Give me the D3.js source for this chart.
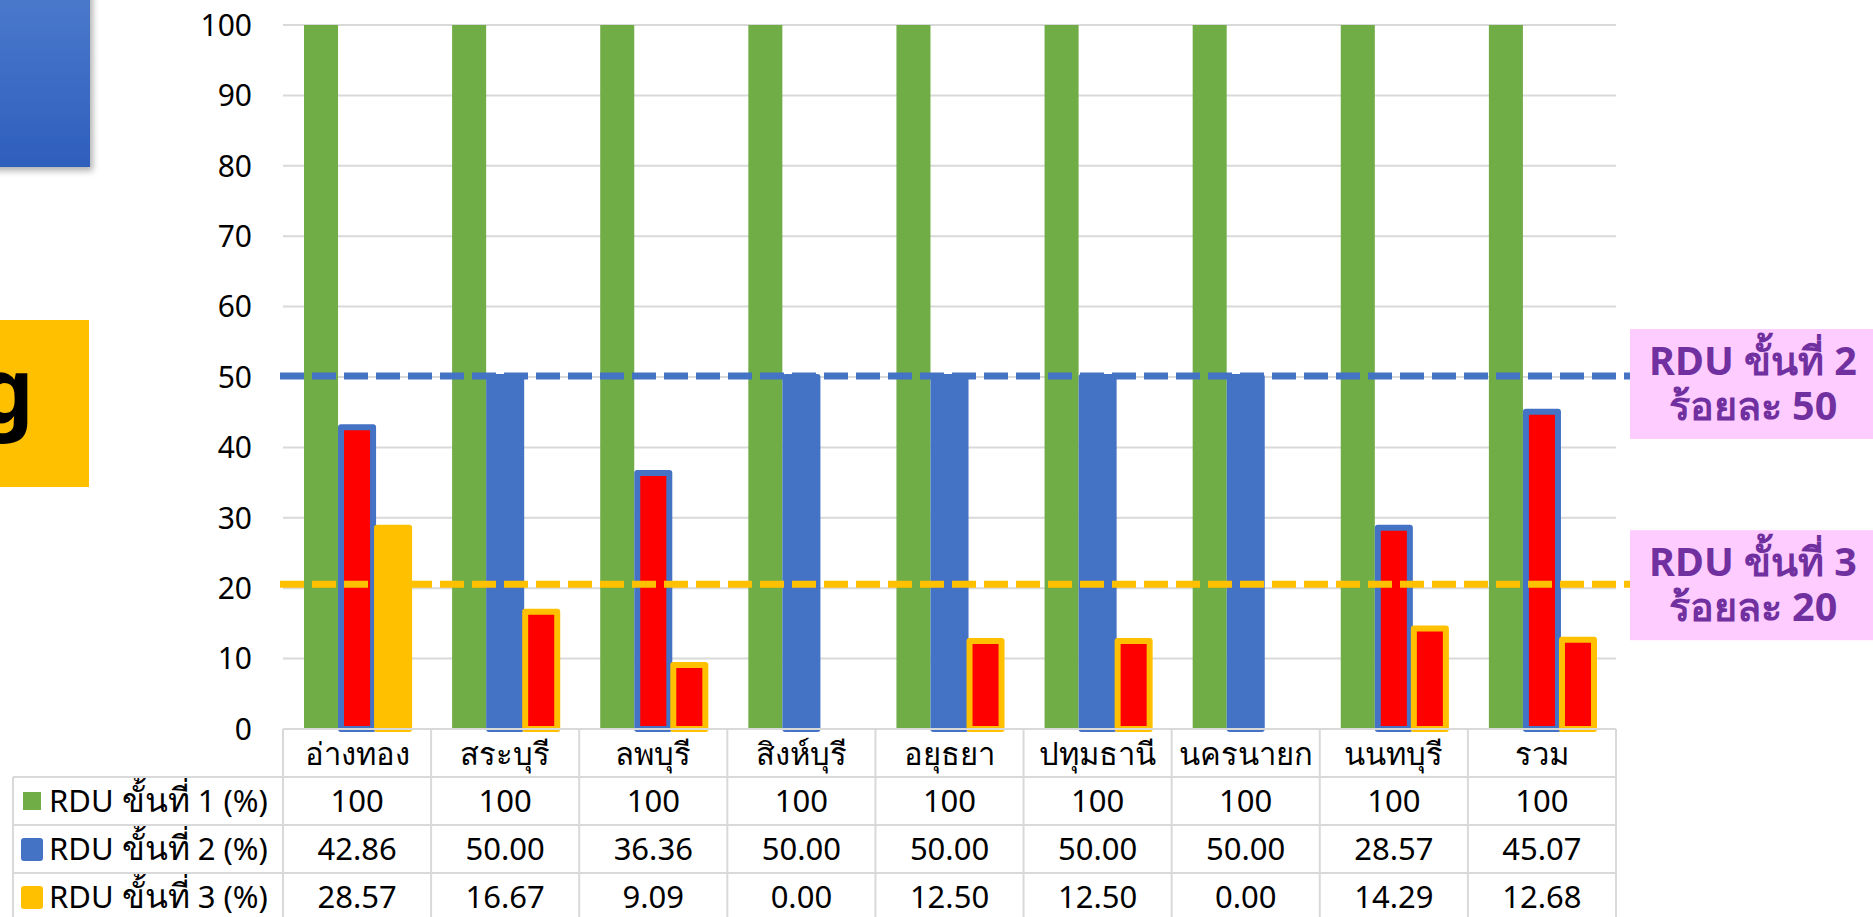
<!DOCTYPE html>
<html>
<head>
<meta charset="utf-8">
<script src="https://cdn.jsdelivr.net/npm/d3@7"></script>
<style>
  html, body { margin: 0; padding: 0; background: #FFFFFF; overflow: hidden; }
  svg text { font-family: Tahoma, "Noto Sans", "Liberation Sans", sans-serif; }
</style>
</head>
<body>
<div id="chart"></div>
<script>
const categories = ["อ่างทอง", "สระบุรี", "ลพบุรี", "สิงห์บุรี", "อยุธยา", "ปทุมธานี", "นครนายก", "นนทบุรี", "รวม"];
const seriesNames = ["RDU ขั้นที่ 1 (%)", "RDU ขั้นที่ 2 (%)", "RDU ขั้นที่ 3 (%)"];
const rdu1 = [100, 100, 100, 100, 100, 100, 100, 100, 100];
const rdu2 = [42.86, 50.00, 36.36, 50.00, 50.00, 50.00, 50.00, 28.57, 45.07];
const rdu3 = [28.57, 16.67, 9.09, 0.00, 12.50, 12.50, 0.00, 14.29, 12.68];
const yTicks = [0, 10, 20, 30, 40, 50, 60, 70, 80, 90, 100];
const targetValues = [50, 20];
const targetLabels = [["RDU ขั้นที่ 2", "ร้อยละ 50"], ["RDU ขั้นที่ 3", "ร้อยละ 20"]];

const width = 1873, height = 917;
const plotLeft = 283, plotRight = 1616, plotTop = 25, plotBottom = 729;
const rowH = 48;
const fontSize = 31;
const thaiScale = 1.08;

const colors = ["#70AD47", "#4472C4", "#FFC000"];
const belowColor = "#FF0000";
const gridColor = "#D9D9D9";
const series = [rdu1, rdu2, rdu3];

// thai glyphs of the fallback font run a bit small, so give them their own size
function mixedText(sel, str, size) {
  const runs = str.match(/[\u0E00-\u0E7F]+|[^\u0E00-\u0E7F]+/g);
  runs.forEach(r => {
    sel.append("tspan")
      .attr("font-size", /[\u0E00-\u0E7F]/.test(r) ? size * thaiScale : size)
      .text(r);
  });
  return sel;
}

const svg = d3.select("#chart")
  .append("svg")
  .attr("width", width)
  .attr("height", height)
  .attr("viewBox", `0 0 ${width} ${height}`);

const defs = svg.append("defs");
const grad = defs.append("linearGradient")
  .attr("id", "blueGrad")
  .attr("x1", 0).attr("y1", 0).attr("x2", 0).attr("y2", 1);
grad.append("stop").attr("offset", "0%").attr("stop-color", "#4C7ACC");
grad.append("stop").attr("offset", "100%").attr("stop-color", "#2E5EBD");
const shadow = defs.append("filter")
  .attr("id", "shadow")
  .attr("x", "-20%").attr("y", "-20%").attr("width", "150%").attr("height", "150%");
shadow.append("feDropShadow")
  .attr("dx", 3).attr("dy", 4).attr("stdDeviation", 3)
  .attr("flood-color", "#000").attr("flood-opacity", 0.3);

// slide pieces left of the chart
svg.append("rect")
  .attr("x", -10).attr("y", -10)
  .attr("width", 100).attr("height", 177)
  .attr("fill", "url(#blueGrad)")
  .attr("filter", "url(#shadow)");
svg.append("rect")
  .attr("x", 0).attr("y", 320)
  .attr("width", 89).attr("height", 167)
  .attr("fill", "#FFC000");
svg.append("text")
  .attr("x", 34).attr("y", 422)
  .attr("text-anchor", "end")
  .attr("font-size", 90)
  .attr("font-weight", "bold")
  .attr("fill", "#000")
  .text("g");

const y = d3.scaleLinear().domain([0, 100]).range([plotBottom, plotTop]);
const x0 = d3.scaleBand()
  .domain(categories)
  .range([plotLeft, plotRight])
  .paddingInner(0.27)
  .paddingOuter(0.135);
const x1 = d3.scaleBand()
  .domain([0, 1, 2])
  .range([0, x0.bandwidth()]);

// gridlines
svg.append("g")
  .selectAll("line")
  .data(yTicks)
  .enter()
  .append("line")
  .attr("x1", plotLeft)
  .attr("x2", plotRight)
  .attr("y1", d => y(d))
  .attr("y2", d => y(d))
  .attr("stroke", gridColor)
  .attr("stroke-width", 2);

// y axis labels
svg.append("g")
  .selectAll("text")
  .data(yTicks)
  .enter()
  .append("text")
  .attr("x", 252)
  .attr("y", d => y(d))
  .attr("dy", "0.36em")
  .attr("text-anchor", "end")
  .attr("font-size", 30)
  .attr("fill", "#000")
  .text(d => d);

// bars
const barData = [];
categories.forEach((c, i) => {
  series.forEach((s, k) => {
    barData.push({ cat: c, k, value: s[i] });
  });
});

const barsG = svg.append("g");
barsG.selectAll("rect.green")
  .data(barData.filter(d => d.k === 0))
  .enter()
  .append("rect")
  .attr("class", "green")
  .attr("x", d => x0(d.cat) + x1(d.k) + 1)
  .attr("width", x1.bandwidth() - 2)
  .attr("y", d => y(d.value))
  .attr("height", d => y(0) - y(d.value))
  .attr("fill", colors[0]);

const sw = 6;
barsG.selectAll("rect.bordered")
  .data(barData.filter(d => d.k > 0 && d.value > 0))
  .enter()
  .append("rect")
  .attr("class", "bordered")
  .attr("x", d => x0(d.cat) + x1(d.k) + 2)
  .attr("width", x1.bandwidth() - 4)
  .attr("y", d => y(d.value))
  .attr("height", d => y(0) - y(d.value))
  .attr("fill", d => d.value < targetValues[d.k - 1] ? belowColor : colors[d.k])
  .attr("stroke", d => colors[d.k])
  .attr("stroke-width", sw)
  .attr("stroke-linejoin", "round");

// target lines
const targetColors = [colors[1], colors[2]];
const lineOffsets = [-1, -4];
svg.append("g")
  .selectAll("line")
  .data(targetValues)
  .enter()
  .append("line")
  .attr("x1", 280)
  .attr("x2", width)
  .attr("y1", (d, i) => y(d) + lineOffsets[i])
  .attr("y2", (d, i) => y(d) + lineOffsets[i])
  .attr("stroke", (d, i) => targetColors[i])
  .attr("stroke-width", 7)
  .attr("stroke-dasharray", "24 8");

// target boxes
const boxOffsets = [7, -3];
const boxes = svg.append("g")
  .selectAll("g")
  .data(targetValues)
  .enter()
  .append("g")
  .attr("transform", (d, i) => `translate(1630,${y(d) + boxOffsets[i] - 55})`);
boxes.append("rect")
  .attr("width", 250)
  .attr("height", 110)
  .attr("fill", "#FFCCFF");
boxes.each(function(d, i) {
  const g = d3.select(this);
  targetLabels[i].forEach((t, j) => {
    g.append("text")
      .attr("x", 123)
      .attr("y", 46 + j * 45)
      .attr("text-anchor", "middle")
      .attr("font-size", 39.5)
      .attr("font-weight", "bold")
      .attr("fill", "#7030A0")
      .text(t);
  });
});

// data table
const table = svg.append("g");
const legendLeft = 13;
const fmt1 = d3.format("d");
const fmt2 = d3.format(".2f");

// header row
categories.forEach((c, i) => {
  const cx = plotLeft + i * x0.step();
  table.append("text")
    .attr("x", cx + x0.step() / 2)
    .attr("y", plotBottom + rowH / 2 + 12)
    .attr("text-anchor", "middle")
    .attr("font-size", 31)
    .attr("fill", "#000")
    .text(c);
});

series.forEach((s, k) => {
  const top = plotBottom + rowH * (k + 1);
  const mid = top + rowH / 2;
  // legend key
  if (k === 0) {
    table.append("rect")
      .attr("x", 23).attr("y", mid - 9)
      .attr("width", 18).attr("height", 18)
      .attr("fill", colors[k]);
  } else {
    table.append("rect")
      .attr("x", 21).attr("y", mid - 11)
      .attr("width", 22).attr("height", 23)
      .attr("rx", 3)
      .attr("fill", colors[k]);
  }
  const lbl = table.append("text")
    .attr("x", 49)
    .attr("y", mid + 11)
    .attr("fill", "#000");
  mixedText(lbl, seriesNames[k], fontSize);
  s.forEach((v, i) => {
    table.append("text")
      .attr("x", plotLeft + i * x0.step() + x0.step() / 2)
      .attr("y", mid + 11)
      .attr("text-anchor", "middle")
      .attr("font-size", fontSize)
      .attr("fill", "#000")
      .text(k === 0 ? fmt1(v) : fmt2(v));
  });
});

// table borders
const tableBottom = plotBottom + rowH * 4;
const hLines = [
  { x1: plotLeft, x2: plotRight, y: plotBottom },
  { x1: legendLeft, x2: plotRight, y: plotBottom + rowH },
  { x1: legendLeft, x2: plotRight, y: plotBottom + rowH * 2 },
  { x1: legendLeft, x2: plotRight, y: plotBottom + rowH * 3 }
];
table.selectAll("line.h")
  .data(hLines)
  .enter()
  .append("line")
  .attr("class", "h")
  .attr("x1", d => d.x1).attr("x2", d => d.x2)
  .attr("y1", d => d.y).attr("y2", d => d.y)
  .attr("stroke", gridColor)
  .attr("stroke-width", 2);

const vLines = d3.range(categories.length + 1).map(i => plotLeft + i * x0.step());
table.selectAll("line.v")
  .data(vLines)
  .enter()
  .append("line")
  .attr("class", "v")
  .attr("x1", d => d).attr("x2", d => d)
  .attr("y1", plotBottom).attr("y2", tableBottom)
  .attr("stroke", gridColor)
  .attr("stroke-width", 2);
table.append("line")
  .attr("x1", legendLeft).attr("x2", legendLeft)
  .attr("y1", plotBottom + rowH).attr("y2", tableBottom)
  .attr("stroke", gridColor)
  .attr("stroke-width", 2);
</script>
</body>
</html>
